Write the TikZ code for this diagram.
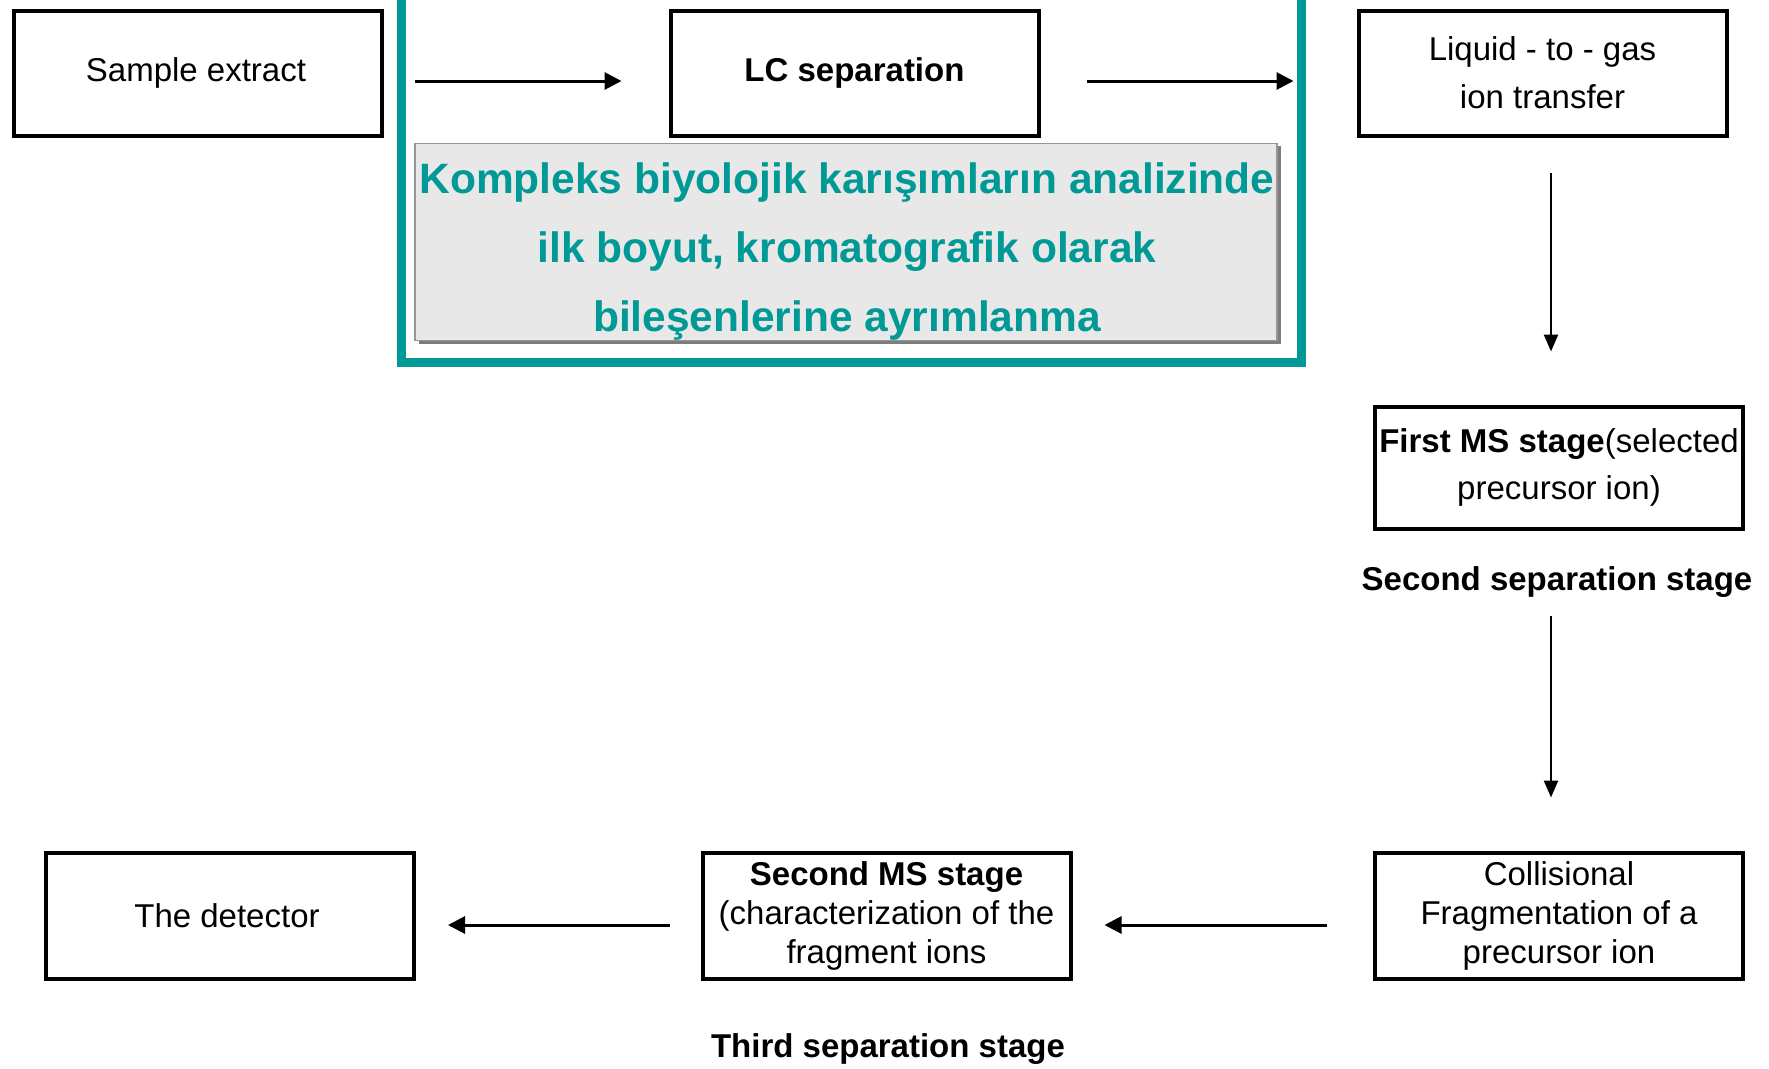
\documentclass[tikz,border=0pt]{standalone}
\usepackage{fontspec}
\setmainfont{Liberation Sans}
\usetikzlibrary{arrows.meta,positioning,calc}
\definecolor{tealc}{RGB}{0,153,150}
\definecolor{notefill}{RGB}{232,232,232}
\definecolor{noteedge}{RGB}{150,150,150}
\definecolor{noteshadow}{RGB}{125,125,125}
\begin{document}
\begin{tikzpicture}[x=1pt,y=-1pt,
  box/.style={draw, line width=4pt, minimum width=368pt, minimum height=125pt,
    align=center, inner sep=0pt, font=\fontsize{33}{39}\selectfont},
  stagelabel/.style={font=\bfseries\fontsize{33}{39}\selectfont, inner sep=0pt},
  arr/.style={line width=3pt, -{Triangle[length=17pt,width=17pt]}},
  varr/.style={line width=2.5pt, -{Triangle[length=17pt,width=14pt]}}]
\useasboundingbox (0,0) rectangle (1769,1068);
\clip (0,0) rectangle (1769,1068);
\fill[white] (0,0) rectangle (1769,1068);

% teal frame (top edge outside the picture)
\draw[tealc, line width=9pt] (401.5,-20) -- (401.5,362) -- (1301.5,362) -- (1301.5,-20);

% top row
\node[box] (sample) at (198,73) {\raisebox{-4pt}{\hspace*{-4pt}Sample extract}};
\node[box] (lc) at (854.5,73) {\raisebox{5pt}{\textbf{LC separation}}};
\node[box, font=\fontsize{33}{48}\selectfont] (liquid) at (1542.5,73) {\raisebox{-2pt}{Liquid - to - gas}\\\raisebox{-2pt}{ion transfer}};

% note box
\fill[noteshadow] (419,146) rectangle (1281,343.5);
\node[draw=noteedge, line width=1.5pt, fill=notefill, minimum width=862pt, minimum height=197pt, inner sep=0pt] (notebox) at (846,242) {};
\node[align=center, text=tealc, font=\bfseries\fontsize{42.5}{69}\selectfont, inner sep=0pt] (notetext) at (847,252)
  {Kompleks biyolojik karışımların analizinde\\ilk boyut, kromatografik olarak\\bileşenlerine ayrımlanma};

% right column
\node[box, minimum height=122pt, font=\fontsize{33}{47}\selectfont] (ms1) at (1559,467.5)
  {\textbf{First MS stage}(selected\\precursor ion)};
\node[stagelabel] (sep2) at (1557,582) {Second separation stage};
\node[box, minimum height=126pt, font=\fontsize{33}{39}\selectfont] (coll) at (1559,915.5)
  {Collisional\\Fragmentation of a\\precursor ion};

% bottom row
\node[box, minimum height=126pt, font=\fontsize{33}{39}\selectfont] (ms2) at (886.5,915.5)
  {\textbf{Second MS stage}\\(characterization of the\\fragment ions};
\node[box, minimum height=126pt] (det) at (230,915.5) {\hspace*{-6pt}The detector};
\node[stagelabel] (sep3) at (888,1049) {Third separation stage};

% connectors
\draw[arr, shorten <=31pt, shorten >=47pt] ([yshift=-8pt]sample.east) -- ([yshift=-8pt]lc.west);
\draw[arr, shorten <=46pt, shorten >=63pt] ([yshift=-8pt]lc.east) -- ([yshift=-8pt]liquid.west);
\draw[varr, shorten <=35pt, shorten >=53pt] ([xshift=8.5pt]liquid.south) -- ([xshift=-8pt]ms1.north);
\draw[varr, shorten <=18pt, shorten >=53pt] ([xshift=-6pt]sep2.south) -- ([xshift=-8pt]coll.north);
\draw[arr, shorten <=46pt, shorten >=32pt] ([yshift=-9.5pt]coll.west) -- ([yshift=-9.5pt]ms2.east);
\draw[arr, shorten <=31pt, shorten >=32pt] ([yshift=-9.5pt]ms2.west) -- ([yshift=-9.5pt]det.east);
\end{tikzpicture}
\end{document}
